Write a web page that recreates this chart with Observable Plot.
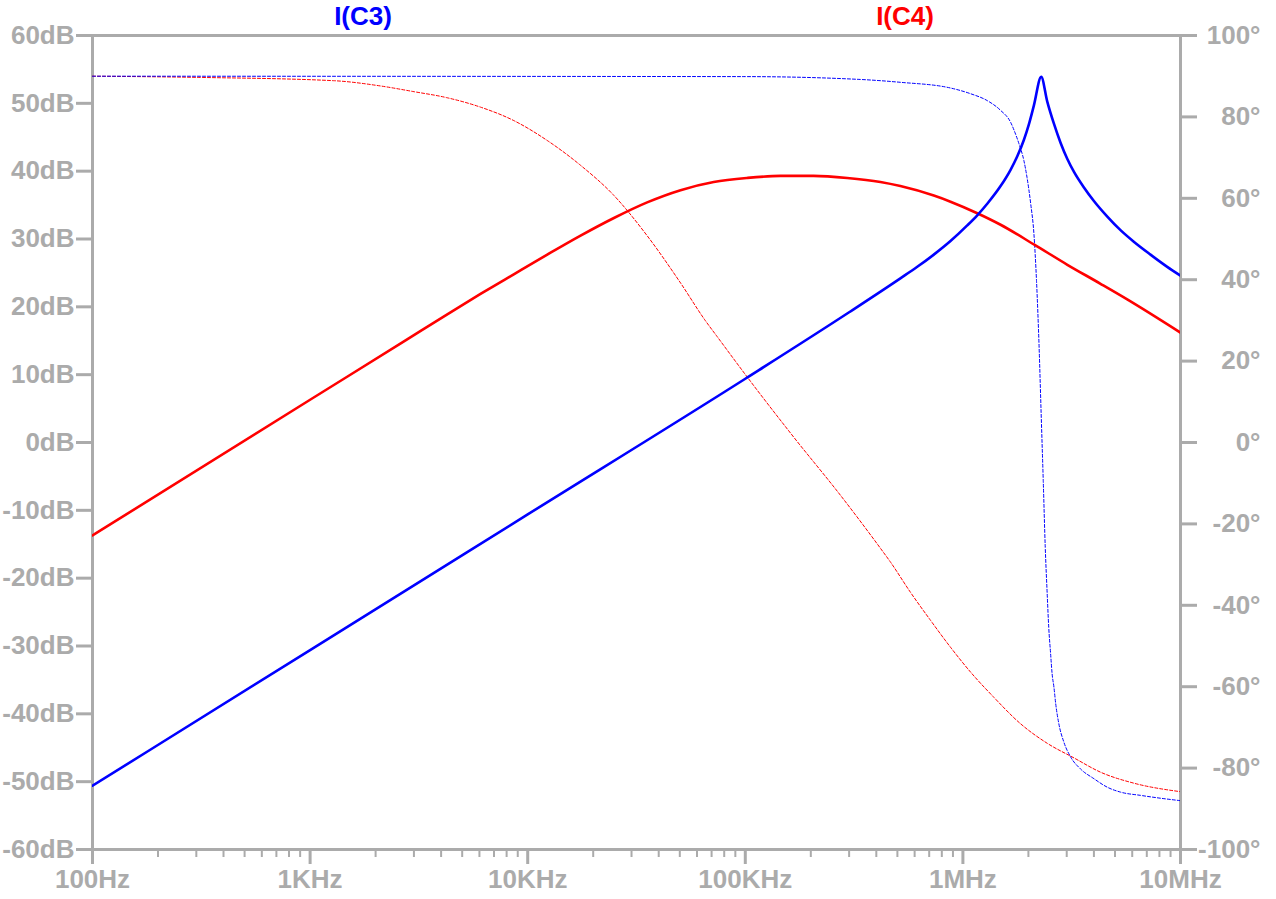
<!DOCTYPE html>
<html>
<head>
<meta charset="utf-8">
<script src="https://cdn.jsdelivr.net/npm/d3@7"></script>
<script src="https://cdn.jsdelivr.net/npm/@observablehq/plot@0.6"></script>
<style>
  html, body { margin: 0; padding: 0; background: #fff; }
  #wrap { position: relative; width: 1276px; height: 899px; }
  .ttl { position: absolute; top: 3px; font: bold 26px "Liberation Sans", Arial, sans-serif; line-height: 26px; transform: translateX(-50%); white-space: nowrap; }
</style>
</head>
<body>
<div id="wrap"></div>
<script>
// ---- data ----
const seriesNames = ["I(C3)", "I(C4)"];
const seriesColors = ["#0000ff", "#ff0000"];

// I(C3) magnitude (dB)
const c3MagFreq = [100, 1000, 10000, 100000, 300000, 516000, 617000, 735000, 877000, 1047000, 1164000, 1294000, 1490000, 1656000, 1778000, 1906000, 2010000, 2120000, 2290000, 2440000, 2620000, 2810000, 3020000, 3240000, 3600000, 4000000, 4610000, 5300000, 6100000, 7280000, 8690000, 10000000];
const c3MagDb   = [-50.6, -30.6, -10.6, 9.4, 19.2, 24.2, 25.9, 27.7, 29.7, 32.0, 33.5, 35.2, 37.8, 40.2, 42.2, 44.6, 46.9, 49.7, 53.9, 50.3, 47.0, 44.2, 41.8, 39.9, 37.6, 35.6, 33.3, 31.3, 29.6, 27.7, 25.9, 24.6];

// I(C4) magnitude (dB)
const c4MagFreq = [100, 1000, 2700, 4270, 6070, 8630, 12300, 17500, 24900, 35400, 50400, 71600, 102000, 145000, 206000, 294000, 418000, 516000, 735000, 877000, 1164000, 1490000, 2120000, 3020000, 4290000, 5690000, 10000000];
const c4MagDb   = [-13.7, 6.3, 14.9, 18.9, 21.9, 24.8, 27.7, 30.5, 33.1, 35.4, 37.2, 38.4, 39.0, 39.3, 39.3, 39.0, 38.4, 37.8, 36.4, 35.5, 33.8, 32.1, 29.2, 26.2, 23.4, 21.1, 16.2];

// I(C3) phase (degrees)
const c3PhFreq = [100, 100000, 338000, 516000, 877000, 1084000, 1294000, 1490000, 1656000, 1745000, 1810000, 1906000, 1970000, 2050000, 2120000, 2179000, 2240000, 2289000, 2340000, 2390000, 2440000, 2480000, 2530000, 2570000, 2620000, 2670000, 2760000, 2910000, 3130000, 3470000, 4000000, 4610000, 5300000, 6550000, 8090000, 10000000];
const c3PhDeg  = [90, 89.9, 89.2, 88.5, 87.1, 85.7, 84.0, 81.6, 78.7, 75.8, 73.4, 69.3, 65.2, 58.6, 51.3, 39.8, 23.4, 7.0, -9.3, -25.7, -37.2, -45.4, -51.9, -56.8, -60.1, -64.2, -69.1, -73.6, -77.3, -80.2, -82.6, -84.7, -85.9, -86.7, -87.4, -88.0];

// I(C4) phase (degrees)
const c4PhFreq = [100, 313, 1280, 2107, 3000, 4270, 6070, 8630, 12300, 17500, 24900, 35400, 50400, 65600, 74300, 102000, 167000, 274000, 418000, 465000, 574000, 710000, 877000, 1084000, 1387000, 1840000, 2440000, 3240000, 4290000, 6100000, 10000000];
const c4PhDeg  = [90, 89.7, 88.9, 87.6, 86.2, 84.7, 82.4, 79.1, 74.2, 68.1, 60.7, 50.8, 39.2, 29.9, 26.0, 16.1, 1.3, -13.0, -26.0, -29.4, -36.8, -43.7, -50.3, -56.4, -62.6, -69.1, -73.9, -77.5, -81.0, -83.7, -85.8];

// axes
const xMajorTicks = [100, 1000, 10000, 100000, 1000000, 10000000];
const xMajorLabels = ["100Hz", "1KHz", "10KHz", "100KHz", "1MHz", "10MHz"];
const xMinorMult = [2, 3, 4, 5, 6, 7, 8, 9];
const dbTicks = [-60, -50, -40, -30, -20, -10, 0, 10, 20, 30, 40, 50, 60];
const degTicks = [-100, -80, -60, -40, -20, 0, 20, 40, 60, 80, 100];
const dbDomain = [-60, 60];
const degDomain = [-100, 100];

// ---- build ----
const gray = "#ababab";
const degToDb = d => dbDomain[0] + (d - degDomain[0]) * (dbDomain[1] - dbDomain[0]) / (degDomain[1] - degDomain[0]);
const dbToDeg = v => degDomain[0] + (v - dbDomain[0]) * (degDomain[1] - degDomain[0]) / (dbDomain[1] - dbDomain[0]);

const tbl = (fs, vs) => fs.map((f, i) => ({f, v: vs[i]}));
const c3Mag = tbl(c3MagFreq, c3MagDb);
const c4Mag = tbl(c4MagFreq, c4MagDb);
const c3Ph = tbl(c3PhFreq, c3PhDeg);
const c4Ph = tbl(c4PhFreq, c4PhDeg);

const minorTicks = xMajorTicks.slice(0, -1).flatMap(d => xMinorMult.map(m => d * m));
const labelMap = new Map(xMajorTicks.map((d, i) => [d, xMajorLabels[i]]));

const chart = Plot.plot({
  width: 1276,
  height: 899,
  marginLeft: 92,
  marginRight: 96,
  marginTop: 35,
  marginBottom: 50,
  style: {fontFamily: "'Liberation Sans', Arial, sans-serif", fontWeight: "bold", fontSize: "26px", color: gray, background: "#fff"},
  x: {type: "log", domain: [xMajorTicks[0], xMajorTicks[xMajorTicks.length - 1]], label: null},
  y: {domain: dbDomain, label: null},
  marks: [
    Plot.axisX({ticks: minorTicks, tickFormat: () => "", tickSize: 8, strokeWidth: 2, label: null}),
    Plot.axisX({ticks: xMajorTicks, tickFormat: d => labelMap.get(d), tickSize: 15, tickPadding: 5, strokeWidth: 3, label: null}),
    Plot.axisY({anchor: "left", ticks: dbTicks, tickFormat: d => d + "dB", tickSize: 16, tickPadding: 2, strokeWidth: 3, label: null}),
    Plot.axisY({anchor: "right", ticks: degTicks.map(degToDb), tickFormat: v => Math.round(dbToDeg(v)) + "°", tickSize: 16, tickPadding: 64, textAnchor: "end", strokeWidth: 3, label: null}),
    Plot.frame({stroke: gray, strokeWidth: 3}),
    Plot.line(c4Ph, {x: "f", y: d => degToDb(d.v), stroke: seriesColors[1], strokeWidth: 1, strokeDasharray: "3,2", curve: "monotone-x", clip: true}),
    Plot.line(c3Ph, {x: "f", y: d => degToDb(d.v), stroke: seriesColors[0], strokeWidth: 1, strokeDasharray: "3,2", curve: "monotone-x", clip: true}),
    Plot.line(c4Mag, {x: "f", y: "v", stroke: seriesColors[1], strokeWidth: 2.6, curve: "monotone-x", clip: true}),
    Plot.line(c3Mag, {x: "f", y: "v", stroke: seriesColors[0], strokeWidth: 2.6, curve: "monotone-x", clip: true})
  ]
});

const wrap = document.getElementById("wrap");
wrap.appendChild(chart);
// series titles above the plot, centred over fixed frequencies
const titleFreq = [1760, 545000];
const xs = chart.scale("x");
seriesNames.forEach((n, i) => {
  const s = document.createElement("div");
  s.className = "ttl";
  s.textContent = n;
  s.style.color = seriesColors[i];
  s.style.left = xs.apply(titleFreq[i]) + "px";
  wrap.appendChild(s);
});
</script>
</body>
</html>
